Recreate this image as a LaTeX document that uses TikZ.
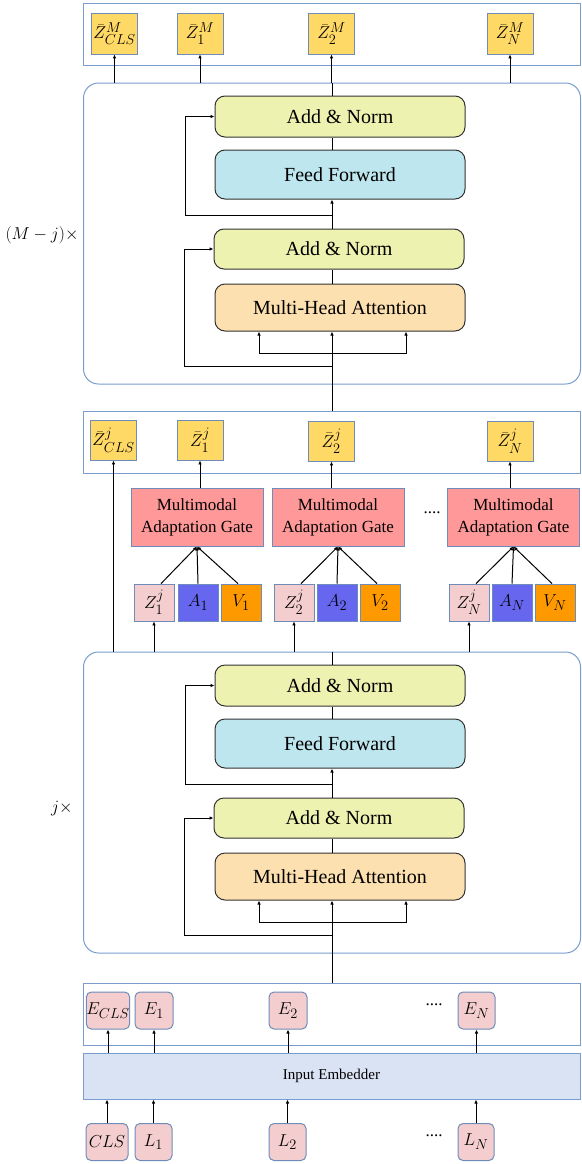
\documentclass[tikz,border=0pt]{standalone}
\usepackage{amsmath}
\usepackage{fontspec}
\setmainfont{Liberation Serif}
\usepackage{tikz}
\usepackage{xcolor}
\usetikzlibrary{arrows.meta,calc}
\definecolor{frame-blue}{RGB}{122,156,206}
\definecolor{edge-blue}{RGB}{110,140,185}
\definecolor{out-yellow}{RGB}{255,217,102}
\definecolor{norm-green}{RGB}{238,242,176}
\definecolor{ff-blue}{RGB}{190,230,238}
\definecolor{mha-orange}{RGB}{253,224,176}
\definecolor{gate-red}{RGB}{255,153,153}
\definecolor{tok-pink}{RGB}{244,206,206}
\definecolor{audio-blue}{RGB}{102,102,238}
\definecolor{video-orange}{RGB}{255,153,0}
\definecolor{embed-blue}{RGB}{218,227,243}
\tikzset{
    frame-box/.style = {draw=frame-blue, line width=1pt, rectangle, inner sep=0pt, minimum width=497pt},
    layer-box/.style = {draw=black!80, line width=1pt, rectangle, rounded corners=10pt, inner sep=0pt, minimum width=250pt, font=\fontsize{20}{24}\selectfont},
    out-box/.style = {draw=edge-blue, fill=out-yellow, line width=0.8pt, inner sep=0pt, minimum width=46pt, minimum height=41pt, font=\fontsize{19}{22}\selectfont},
    gate-box/.style = {draw=edge-blue, fill=gate-red, line width=1pt, inner sep=0pt, minimum width=132pt, minimum height=58pt, align=center, font=\fontsize{17}{22}\selectfont},
    mod-box/.style = {draw=edge-blue, line width=0.8pt, inner sep=0pt, minimum width=40pt, minimum height=37pt, font=\fontsize{19}{22}\selectfont},
    tok-box/.style = {draw=edge-blue, fill=tok-pink, line width=1pt, rounded corners=5pt, inner sep=0pt, minimum width=38pt, minimum height=37pt, font=\fontsize{19}{22}\selectfont},
    link/.style = {draw=black, line width=1pt},
    dots/.style = {font=\fontsize{17}{20}\selectfont},
}

\newcommand{\encoderlayer}{%
    \node[frame-box, rounded corners=15pt, minimum height=301pt] (blk) at (332,233.5) {};
    \coordinate (spine) at (332,0);
    \node[layer-box, fill=norm-green, minimum height=41pt] (an-top) at (340,116.5) {Add \& Norm};
    \node[layer-box, fill=ff-blue, minimum height=49pt] (ff) at (340,174.5) {Feed Forward};
    \node[layer-box, fill=norm-green, minimum height=40pt] (an-bot) at (339,249) {Add \& Norm};
    \node[layer-box, fill=mha-orange, minimum height=47pt] (mha) at (340,307.5) {Multi-Head Attention};
    \coordinate (res-top) at (332,215);
    \coordinate (res-bot) at (332,366);
    \coordinate (fork) at (332,353);
    \draw[link, ->] (blk.south) -- (mha.south -| spine);
    \draw[link, ->] (fork) -| ([xshift=-81pt]mha.south);
    \draw[link, ->] (fork) -| ([xshift=66pt]mha.south);
    \draw[link] (mha.north -| spine) -- (an-bot.south -| spine);
    \draw[link, ->] (an-bot.north -| spine) -- (ff.south -| spine);
    \draw[link] (ff.north -| spine) -- (an-top.south -| spine);
    \draw[link] (an-top.north -| spine) -- (blk.north);
    \draw[link, ->] (res-top) -- ++(-147,0) |- (an-top.west);
    \draw[link, ->] (res-bot) -- ++(-148,0) |- (an-bot.west);
}

\begin{document}
\begin{tikzpicture}[x=1pt, y=-1pt, >={Latex[length=4pt,width=3.5pt]}]
\useasboundingbox (0,0) rectangle (581,1164);

% final outputs
\node[frame-box, minimum height=62pt] (zm-row) at (331.5,35) {};
\node[out-box] (zm-cls) at (114.5,33.5) {$\bar{Z}^{M}_{CLS}$};
\node[out-box] (zm-1) at (200,33.5) {$\bar{Z}^{M}_{1}$};
\node[out-box] (zm-2) at (331.5,33.5) {$\bar{Z}^{M}_{2}$};
\node[out-box] (zm-n) at (510,33.5) {$\bar{Z}^{M}_{N}$};

\begin{scope}[name prefix=up-]
\encoderlayer
\end{scope}
\begin{scope}[yshift=-569pt, name prefix=lo-]
\encoderlayer
\end{scope}

\node[anchor=east, font=\fontsize{19}{22}\selectfont] (rep-up) at (82,235) {$(M-j)\times$};
\node[anchor=east, font=\fontsize{19}{22}\selectfont] (rep-lo) at (76,809) {$j\times$};

\foreach \out in {zm-cls, zm-1, zm-2, zm-n}
    \draw[link, ->] (up-blk.north -| \out) -- (\out.south);

% intermediate outputs
\node[frame-box, minimum height=62pt] (zj-row) at (331.5,442) {};
\node[out-box, minimum height=40pt] (zj-cls) at (113.5,440) {$\bar{Z}^{j}_{CLS}$};
\node[out-box, minimum height=40pt] (zj-1) at (200,440) {$\bar{Z}^{j}_{1}$};
\node[out-box, minimum height=40pt] (zj-2) at (331.5,441) {$\bar{Z}^{j}_{2}$};
\node[out-box, minimum height=40pt] (zj-n) at (510,441) {$\bar{Z}^{j}_{N}$};
\draw[link] (zj-row.north -| up-spine) -- (up-blk.south);

% gates
\node[gate-box] (mag-1) at (197,517) {Multimodal\\Adaptation Gate};
\node[gate-box] (mag-2) at (338,517) {Multimodal\\Adaptation Gate};
\node[gate-box] (mag-n) at (513.5,517) {Multimodal\\Adaptation Gate};
\node[dots] (gate-dots) at (432,513) {....};

\node[mod-box, fill=tok-pink] (z-1) at (154,602.5) {$Z^{j}_{1}$};
\node[mod-box, fill=audio-blue] (a-1) at (198,602.5) {$A_{1}$};
\node[mod-box, fill=video-orange] (v-1) at (241,602.5) {$V_{1}$};
\node[mod-box, fill=tok-pink] (z-2) at (294,602.5) {$Z^{j}_{2}$};
\node[mod-box, fill=audio-blue] (a-2) at (337,602.5) {$A_{2}$};
\node[mod-box, fill=video-orange] (v-2) at (380,602.5) {$V_{2}$};
\node[mod-box, fill=tok-pink] (z-n) at (469,602.5) {$Z^{j}_{N}$};
\node[mod-box, fill=audio-blue] (a-n) at (512,602.5) {$A_{N}$};
\node[mod-box, fill=video-orange] (v-n) at (555,602.5) {$V_{N}$};

\foreach \i/\o in {1/1, 2/2, n/n} {
    \draw[link, ->] ([xshift=7pt]z-\i.north) -- (mag-\i.south);
    \draw[link, ->] (a-\i.north) -- (mag-\i.south);
    \draw[link, ->] ([xshift=-3pt]v-\i.north) -- (mag-\i.south);
    \draw[link, ->] (zj-\o.south |- mag-\i.north) -- (zj-\o.south);
    \draw[link, ->] (lo-blk.north -| z-\i) -- (z-\i.south);
}
\draw[link, ->] (lo-blk.north -| zj-cls) -- (zj-cls.south);

% embeddings
\node[frame-box, minimum height=62pt] (e-row) at (331.5,1014) {};
\node[tok-box, minimum width=42pt] (e-cls) at (108,1010.5) {$E_{CLS}$};
\node[tok-box] (e-1) at (154,1010.5) {$E_{1}$};
\node[tok-box] (e-2) at (288,1010.5) {$E_{2}$};
\node[tok-box, minimum width=37pt] (e-n) at (476.5,1010.5) {$E_{N}$};
\node[dots] (e-dots) at (434,1005) {....};
\draw[link] (e-row.north -| lo-spine) -- (lo-blk.south);

\node[frame-box, fill=embed-blue, minimum height=46pt, font=\fontsize{15}{18}\selectfont] (embedder) at (331.5,1076) {Input Embedder};

\node[tok-box, minimum width=42pt] (l-cls) at (107,1142) {$CLS$};
\node[tok-box, minimum width=37pt] (l-1) at (153.5,1142) {$L_{1}$};
\node[tok-box, minimum width=37pt] (l-2) at (287.5,1142) {$L_{2}$};
\node[tok-box, minimum width=36pt] (l-n) at (476,1142) {$L_{N}$};
\node[dots] (l-dots) at (434,1136) {....};

\foreach \t in {cls, 1, 2, n} {
    \draw[link, ->] (embedder.north -| e-\t) -- (e-\t.south);
    \draw[link, ->] (l-\t.north) -- (embedder.south -| l-\t);
}
\end{tikzpicture}
\end{document}
